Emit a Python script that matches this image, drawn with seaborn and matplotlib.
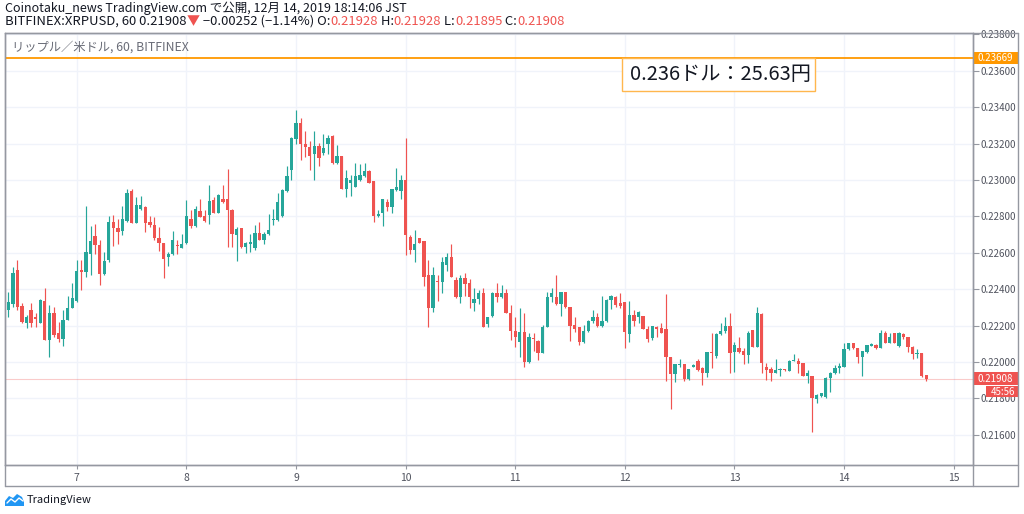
import numpy as np
import pandas as pd
import matplotlib
matplotlib.use("Agg")
import matplotlib.pyplot as plt
import seaborn as sns
from matplotlib.patches import Rectangle, Polygon
from matplotlib.lines import Line2D
from matplotlib.transforms import blended_transform_factory

# ------------------------------------------------------------------ data
start_time = "2019-12-06 09:00"   # first hourly bar (JST)

opens = [
    0.22285, 0.22316, 0.22508, 0.22307, 0.22214, 0.22285, 0.22248, 0.22214, 0.22335, 0.22120,
    0.22270, 0.22157, 0.22124, 0.22230, 0.22296, 0.22336, 0.22508, 0.22496, 0.22596, 0.22691,
    0.22642, 0.22486, 0.22560, 0.22770, 0.22739, 0.22719, 0.22776, 0.22940, 0.22765, 0.22843,
    0.22852, 0.22768, 0.22755, 0.22682, 0.22655, 0.22578, 0.22593, 0.22642, 0.22629, 0.22655,
    0.22783, 0.22746, 0.22829, 0.22801, 0.22807, 0.22889, 0.22819, 0.22898, 0.22893, 0.22834,
    0.22700, 0.22734, 0.22633, 0.22647, 0.22624, 0.22710, 0.22673, 0.22706, 0.22779, 0.22779,
    0.22801, 0.22940, 0.23054, 0.23228, 0.23315, 0.23200, 0.23182, 0.23142, 0.23185, 0.23149,
    0.23196, 0.23242, 0.23096, 0.23131, 0.22953, 0.22981, 0.22962, 0.22999, 0.23021, 0.23048,
    0.22995, 0.22801, 0.22819, 0.22880, 0.22849, 0.22944, 0.22940, 0.23002, 0.22688, 0.22615,
    0.22679, 0.22665, 0.22478, 0.22295, 0.22447, 0.22441, 0.22533, 0.22579, 0.22451, 0.22355,
    0.22463, 0.22432, 0.22323, 0.22344, 0.22381, 0.22209, 0.22253, 0.22381, 0.22355, 0.22381,
    0.22271, 0.22172, 0.22112, 0.22167, 0.22002, 0.22130, 0.22118, 0.22052, 0.22194, 0.22355,
    0.22359, 0.22318, 0.22386, 0.22300, 0.22203, 0.22190, 0.22112, 0.22170, 0.22225, 0.22249,
    0.22199, 0.22227, 0.22340, 0.22359, 0.22326, 0.22331, 0.22152, 0.22258, 0.22249, 0.22254,
    0.22179, 0.22130, 0.22194, 0.22185, 0.22179, 0.22026, 0.21934, 0.21981, 0.21989, 0.21905,
    0.21970, 0.22007, 0.21965, 0.21938, 0.22055, 0.22035, 0.22152, 0.22170, 0.22197, 0.22056,
    0.22075, 0.22062, 0.22038, 0.22175, 0.22084, 0.22263, 0.21974, 0.21959, 0.21941, 0.21956,
    0.21961, 0.21952, 0.22003, 0.22007, 0.21996, 0.21923, 0.21925, 0.21795, 0.21813, 0.21806,
    0.21910, 0.21937, 0.21965, 0.21974, 0.22069, 0.22106, 0.22075, 0.22025, 0.22056, 0.22089,
    0.22093, 0.22075, 0.22161, 0.22106, 0.22161, 0.22087, 0.22153, 0.22135, 0.22084, 0.22043,
    0.22047, 0.21928,
]
highs = [
    0.22382, 0.22523, 0.22560, 0.22322, 0.22257, 0.22325, 0.22267, 0.22344, 0.22408, 0.22313,
    0.22303, 0.22221, 0.22285, 0.22362, 0.22435, 0.22560, 0.22560, 0.22856, 0.22746, 0.22757,
    0.22669, 0.22605, 0.22801, 0.22807, 0.22788, 0.22856, 0.22948, 0.22948, 0.22907, 0.22911,
    0.22856, 0.22801, 0.22798, 0.22743, 0.22655, 0.22605, 0.22721, 0.22669, 0.22706, 0.22889,
    0.22834, 0.22856, 0.22893, 0.22834, 0.22975, 0.22907, 0.22922, 0.22971, 0.23063, 0.22843,
    0.22743, 0.22734, 0.22660, 0.22706, 0.22755, 0.22770, 0.22715, 0.22812, 0.22838, 0.22929,
    0.22953, 0.23079, 0.23237, 0.23387, 0.23343, 0.23270, 0.23213, 0.23270, 0.23204, 0.23251,
    0.23246, 0.23246, 0.23195, 0.23131, 0.23057, 0.23026, 0.23094, 0.23087, 0.23094, 0.23054,
    0.22995, 0.22834, 0.22895, 0.22898, 0.22953, 0.23068, 0.23026, 0.23233, 0.22697, 0.22724,
    0.22679, 0.22665, 0.22560, 0.22524, 0.22478, 0.22579, 0.22597, 0.22648, 0.22469, 0.22478,
    0.22487, 0.22454, 0.22405, 0.22396, 0.22405, 0.22249, 0.22387, 0.22432, 0.22423, 0.22399,
    0.22313, 0.22249, 0.22295, 0.22268, 0.22161, 0.22158, 0.22121, 0.22204, 0.22387, 0.22404,
    0.22478, 0.22386, 0.22386, 0.22300, 0.22249, 0.22190, 0.22203, 0.22231, 0.22285, 0.22271,
    0.22362, 0.22344, 0.22368, 0.22362, 0.22377, 0.22331, 0.22337, 0.22285, 0.22282, 0.22254,
    0.22198, 0.22198, 0.22198, 0.22216, 0.22373, 0.22026, 0.21989, 0.22014, 0.21989, 0.21963,
    0.21989, 0.22014, 0.21970, 0.22056, 0.22157, 0.22157, 0.22212, 0.22249, 0.22267, 0.22111,
    0.22139, 0.22075, 0.22172, 0.22175, 0.22300, 0.22271, 0.21992, 0.21974, 0.22014, 0.21967,
    0.21961, 0.22011, 0.22044, 0.22020, 0.21996, 0.21956, 0.21925, 0.21822, 0.21831, 0.21919,
    0.21947, 0.21983, 0.21992, 0.22102, 0.22106, 0.22106, 0.22075, 0.22062, 0.22093, 0.22106,
    0.22097, 0.22175, 0.22172, 0.22161, 0.22161, 0.22164, 0.22161, 0.22139, 0.22087, 0.22069,
    0.22051, 0.21928,
]
lows = [
    0.22248, 0.22303, 0.22285, 0.22214, 0.22185, 0.22194, 0.22194, 0.22212, 0.22120, 0.22029,
    0.22139, 0.22111, 0.22087, 0.22230, 0.22294, 0.22331, 0.22395, 0.22468, 0.22477, 0.22596,
    0.22422, 0.22477, 0.22551, 0.22636, 0.22651, 0.22697, 0.22770, 0.22761, 0.22761, 0.22834,
    0.22715, 0.22743, 0.22673, 0.22611, 0.22459, 0.22529, 0.22587, 0.22593, 0.22624, 0.22651,
    0.22734, 0.22743, 0.22794, 0.22770, 0.22757, 0.22816, 0.22816, 0.22871, 0.22633, 0.22633,
    0.22556, 0.22629, 0.22600, 0.22605, 0.22618, 0.22669, 0.22647, 0.22700, 0.22752, 0.22776,
    0.22798, 0.22935, 0.22999, 0.23200, 0.23112, 0.23127, 0.23054, 0.22999, 0.23076, 0.23136,
    0.23145, 0.23090, 0.23090, 0.22948, 0.22907, 0.22911, 0.22959, 0.22995, 0.23017, 0.22981,
    0.22770, 0.22794, 0.22746, 0.22830, 0.22819, 0.22940, 0.22893, 0.22587, 0.22596, 0.22551,
    0.22652, 0.22418, 0.22191, 0.22277, 0.22337, 0.22377, 0.22502, 0.22465, 0.22350, 0.22323,
    0.22363, 0.22295, 0.22282, 0.22319, 0.22191, 0.22194, 0.22249, 0.22332, 0.22350, 0.22271,
    0.22121, 0.22081, 0.22026, 0.21975, 0.21997, 0.22063, 0.22011, 0.22048, 0.22191, 0.22331,
    0.22313, 0.22252, 0.22295, 0.22117, 0.22166, 0.22093, 0.22106, 0.22166, 0.22212, 0.22194,
    0.22194, 0.22221, 0.22289, 0.22300, 0.22295, 0.22075, 0.22112, 0.22198, 0.22216, 0.22179,
    0.22112, 0.22121, 0.22139, 0.22157, 0.21897, 0.21740, 0.21892, 0.21974, 0.21897, 0.21901,
    0.21970, 0.21952, 0.21873, 0.21916, 0.21965, 0.22020, 0.22148, 0.22157, 0.21938, 0.21947,
    0.22051, 0.21989, 0.21996, 0.22080, 0.22080, 0.21938, 0.21901, 0.21897, 0.21938, 0.21923,
    0.21950, 0.21952, 0.22003, 0.21938, 0.21923, 0.21886, 0.21617, 0.21773, 0.21806, 0.21800,
    0.21837, 0.21934, 0.21941, 0.21970, 0.22065, 0.22069, 0.21996, 0.21923, 0.22051, 0.22087,
    0.22069, 0.22075, 0.22102, 0.22102, 0.22106, 0.22084, 0.22129, 0.22056, 0.22014, 0.22020,
    0.21919, 0.21895,
]
closes = [
    0.22327, 0.22490, 0.22303, 0.22221, 0.22248, 0.22214, 0.22239, 0.22340, 0.22120, 0.22270,
    0.22148, 0.22124, 0.22230, 0.22298, 0.22353, 0.22499, 0.22496, 0.22605, 0.22664, 0.22642,
    0.22486, 0.22556, 0.22770, 0.22739, 0.22713, 0.22785, 0.22929, 0.22765, 0.22860, 0.22863,
    0.22766, 0.22755, 0.22679, 0.22655, 0.22567, 0.22596, 0.22673, 0.22636, 0.22647, 0.22801,
    0.22746, 0.22843, 0.22798, 0.22774, 0.22885, 0.22819, 0.22915, 0.22880, 0.22834, 0.22706,
    0.22732, 0.22633, 0.22655, 0.22657, 0.22710, 0.22673, 0.22706, 0.22728, 0.22787, 0.22880,
    0.22944, 0.23021, 0.23231, 0.23315, 0.23200, 0.23182, 0.23131, 0.23185, 0.23121, 0.23178,
    0.23231, 0.23096, 0.23131, 0.22953, 0.23012, 0.23002, 0.23021, 0.23026, 0.23050, 0.22984,
    0.22801, 0.22812, 0.22895, 0.22849, 0.22953, 0.22959, 0.22999, 0.22697, 0.22615, 0.22651,
    0.22656, 0.22469, 0.22295, 0.22478, 0.22440, 0.22551, 0.22579, 0.22465, 0.22355, 0.22460,
    0.22429, 0.22359, 0.22344, 0.22377, 0.22191, 0.22246, 0.22381, 0.22355, 0.22381, 0.22271,
    0.22172, 0.22136, 0.22167, 0.22002, 0.22136, 0.22125, 0.22052, 0.22194, 0.22355, 0.22381,
    0.22318, 0.22386, 0.22300, 0.22198, 0.22179, 0.22112, 0.22172, 0.22225, 0.22249, 0.22199,
    0.22227, 0.22340, 0.22362, 0.22313, 0.22307, 0.22166, 0.22258, 0.22227, 0.22276, 0.22179,
    0.22124, 0.22198, 0.22181, 0.22157, 0.22026, 0.21934, 0.21989, 0.21989, 0.21905, 0.21959,
    0.21983, 0.21956, 0.21938, 0.22053, 0.22047, 0.22152, 0.22170, 0.22197, 0.22051, 0.22093,
    0.22056, 0.22038, 0.22157, 0.22084, 0.22271, 0.21996, 0.21956, 0.21941, 0.21956, 0.21963,
    0.21956, 0.22007, 0.22011, 0.21989, 0.21923, 0.21941, 0.21800, 0.21818, 0.21828, 0.21914,
    0.21941, 0.21965, 0.21978, 0.22069, 0.22102, 0.22075, 0.22025, 0.22062, 0.22093, 0.22097,
    0.22075, 0.22161, 0.22106, 0.22139, 0.22106, 0.22161, 0.22135, 0.22084, 0.22043, 0.22051,
    0.21925, 0.21908,
]

price_ticks = [0.216, 0.218, 0.220, 0.222, 0.224, 0.226, 0.228, 0.230, 0.232, 0.234, 0.236, 0.238]
level_price = 0.23669
last_price = 0.21908
countdown = "45:56"
note_text = "0.236ドル：25.63円"
title_line = "Coinotaku_news TradingView.com で公開, 12月 14, 2019 18:14:06 JST"
legend_line = "リップル／米ドル, 60, BITFINEX"
info_parts = [
    ("BITFINEX:XRPUSD, 60 0.21908", "dark"), ("▼", "red"),
    (" −0.00252 (−1.14%) O:", "dark"), ("0.21928", "red"),
    (" H:", "dark"), ("0.21928", "red"),
    (" L:", "dark"), ("0.21895", "red"),
    (" C:", "dark"), ("0.21908", "red"),
]

# ------------------------------------------------------------------ style
GREEN = "#26a69a"
RED = "#ef5350"
ORANGE = "#ff9800"
FRAME = "#9598a1"
GRID = "#f0f3fa"
DARK = "#131722"
AXTXT = "#50535e"

sns.set_theme(style="white")
plt.rcParams["font.family"] = ["Noto Sans CJK JP", "DejaVu Sans"]
plt.rcParams["axes.unicode_minus"] = False

df = pd.DataFrame({
    "time": pd.date_range(start_time, periods=len(closes), freq="h"),
    "open": opens, "high": highs, "low": lows, "close": closes,
})
df["bar"] = np.arange(len(df))
df["up"] = df["close"] >= df["open"]

W, H = 1024, 514
fig = plt.figure(figsize=(W / 100, H / 100), dpi=100)
fig.patch.set_facecolor("white")

# pixel layout of the pane
PL, PR, PT, PB = 5.0, 972.5, 33.0, 464.5
OR, OB = 1018.0, 486.0
ax = fig.add_axes([PL / W, 1 - PB / H, (PR - PL) / W, (PB - PT) / H])
ax.set_facecolor("white")

bar_px = 4.567        # horizontal pixels per hourly bar
first_px = 8.3        # pixel x of the first bar
ax.set_xlim((PL - first_px) / bar_px, (PR - first_px) / bar_px)
px_per_price = 36.4 / 0.002
ref_price, ref_px = 0.220, 362.0
ax.set_ylim(ref_price - (PB - ref_px) / px_per_price, ref_price + (ref_px - PT) / px_per_price)

# grid / ticks
day_starts = df.loc[df["time"].dt.hour == 0, "bar"].tolist()
day_labels = [str(t.day) for t in df.loc[df["time"].dt.hour == 0, "time"]]
last_t = df["time"].iloc[-1]
day_starts.append(df["bar"].iloc[-1] + (24 - last_t.hour))
day_labels.append(str((last_t + pd.Timedelta(hours=24 - last_t.hour)).day))
ax.set_xticks(day_starts)
ax.set_xticklabels(day_labels)
ax.set_yticks(price_ticks)
ax.set_yticklabels([f"{p:.5f}" for p in price_ticks])
ax.yaxis.tick_right()
ax.grid(True, color=GRID, linewidth=1.0)
ax.set_axisbelow(True)
ax.tick_params(axis="y", which="both", right=True, left=False, direction="out",
               length=4, width=0.8, color=FRAME, labelcolor=AXTXT, labelsize=7, pad=2)
ax.tick_params(axis="x", bottom=True, direction="out", length=3, width=0.8,
               color=FRAME, labelcolor=AXTXT, labelsize=7.5, pad=3)
for s in ax.spines.values():
    s.set_color(FRAME)
    s.set_linewidth(1.0)

# last-price line & level line
ax.axhline(last_price, color=RED, alpha=0.3, linewidth=0.8, zorder=2)
ax.axhline(level_price, color=ORANGE, linewidth=1.3, zorder=5)

# candles
colors = np.where(df["up"], GREEN, RED)
ax.vlines(df["bar"], df["low"], df["high"], colors=colors, linewidth=0.85, zorder=3)
body_low = np.minimum(df["open"], df["close"])
body_h = np.maximum((df["close"] - df["open"]).abs(), 1.0 / px_per_price)
ax.bar(df["bar"], body_h, bottom=body_low, width=0.72, color=colors, linewidth=0, zorder=4)

# note box anchored at the level line
note_left = (622 - first_px) / bar_px
note_right = (815 - first_px) / bar_px
note_h = 33 / px_per_price
ax.add_patch(Rectangle((note_left, level_price - note_h), note_right - note_left, note_h,
                       facecolor="white", edgecolor="#ffb74d", linewidth=1.0, zorder=6))
ax.text(note_left + 8 / bar_px, level_price - note_h / 2, note_text, fontsize=14.5,
        color=DARK, va="center", ha="left", zorder=7)

# price-axis labels (orange level, red last price, countdown)
btr = blended_transform_factory(ax.transAxes, ax.transData)
ax_w = PR - PL
lab_w = (OR - PR) / ax_w
box_h = 12.5 / px_per_price
ax.add_patch(Rectangle((1.0, level_price - box_h / 2), lab_w, box_h, transform=btr,
                       facecolor=ORANGE, edgecolor="none", clip_on=False, zorder=10))
ax.text(1.0 + 5 / ax_w, level_price, f"{level_price:.5f}", transform=btr, color="white",
        fontsize=7, va="center", ha="left", clip_on=False, zorder=11)
ax.add_patch(Rectangle((1.0, last_price - box_h / 2), lab_w, box_h, transform=btr,
                       facecolor=RED, edgecolor="none", clip_on=False, zorder=10))
ax.text(1.0 + 5 / ax_w, last_price, f"{last_price:.5f}", transform=btr, color="white",
        fontsize=7, va="center", ha="left", clip_on=False, zorder=11)
cd_top = last_price - 7.5 / px_per_price
cd_h = 11 / px_per_price
ax.add_patch(Rectangle(((986.5 - PL) / ax_w, cd_top - cd_h), (OR - 986.5) / ax_w, cd_h,
                       transform=btr, facecolor=RED, edgecolor="none", clip_on=False, zorder=10))
ax.text((OR - 2.5 - PL) / ax_w, cd_top - cd_h / 2, countdown, transform=btr, color="white",
        fontsize=7, va="center", ha="right", clip_on=False, zorder=11)

# outer frame lines
def fline(x0, y0, x1, y1):
    fig.add_artist(Line2D([x0 / W, x1 / W], [1 - y0 / H, 1 - y1 / H],
                          color=FRAME, linewidth=1.0, zorder=20))
fline(PL, PT, OR, PT)
fline(OR, PT, OR, OB)
fline(PL, OB, OR, OB)
fline(PL, PT, PL, OB)
fline(PR, PT, PR, OB)
fline(PL, PB, OR, PB)

# header texts
fig.text(PL / W, 1 - 8.5 / H, title_line, fontsize=9, color=DARK, va="center", ha="left")
fig.canvas.draw()
renderer = fig.canvas.get_renderer()
x = PL
for txt, c in info_parts:
    t = fig.text(x / W, 1 - 21.5 / H, txt, fontsize=9.4, color=(RED if c == "red" else DARK),
                 va="center", ha="left")
    bb = t.get_window_extent(renderer)
    x += bb.width
fig.text(12 / W, 1 - 47 / H, legend_line, fontsize=8.85, color="#6a6d78", va="center", ha="left")

# TradingView logo
logo = Polygon([[5 / W, 1 - 506 / H], [5 / W, 1 - 501 / H], [9 / W, 1 - 496 / H],
                [13 / W, 1 - 498 / H], [17 / W, 1 - 494 / H], [22 / W, 1 - 497 / H],
                [24 / W, 1 - 502 / H], [24 / W, 1 - 506 / H]],
               closed=True, transform=fig.transFigure, facecolor="#2196f3", edgecolor="none")
fig.add_artist(logo)
fig.add_artist(Line2D([7 / W, 11 / W, 15 / W, 19 / W, 23 / W],
                      [1 - 503 / H, 1 - 499 / H, 1 - 502 / H, 1 - 498 / H, 1 - 501 / H],
                      color="white", linewidth=1.0))
fig.text(27 / W, 1 - 500 / H, "TradingView", fontsize=8, color=DARK, va="center", ha="left")

fig.savefig("out.png", dpi=100, facecolor="white")
